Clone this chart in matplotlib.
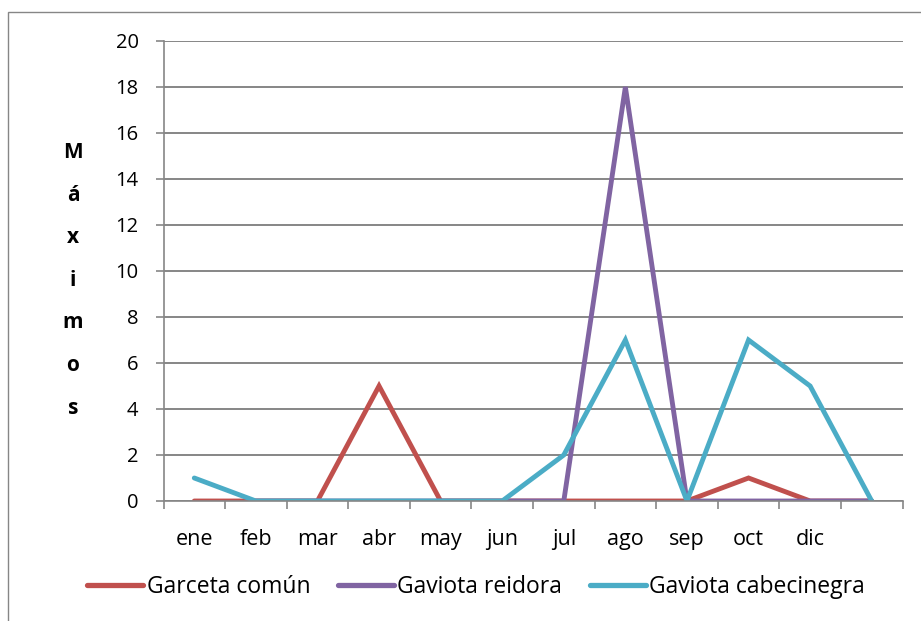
import numpy as np
import matplotlib
matplotlib.use("Agg")
import matplotlib.pyplot as plt
from matplotlib.patches import Rectangle
from matplotlib.ticker import FixedLocator, MultipleLocator

# Monthly maxima per species
months = ["ene", "feb", "mar", "abr", "may", "jun", "jul", "ago", "sep", "oct", "dic", ""]
garceta_comun = [0, 0, 0, 5, 0, 0, 0, 0, 0, 1, 0, 0]
gaviota_reidora = [np.nan, 0, 0, 0, 0, 0, 0, 18, 0, 0, 0, 0]
gaviota_cabecinegra = [1, 0, 0, 0, 0, 0, 2, 7, 0, 7, 5, 0]

series_names = ["Garceta común", "Gaviota reidora", "Gaviota cabecinegra"]
series_colors = ["#C0504D", "#8064A2", "#4BACC6"]

plt.rcParams["font.family"] = ["Open Sans", "DejaVu Sans"]

W, H = 921, 621
fig = plt.figure(figsize=(W / 100, H / 100), dpi=100)

# Chart frame
fig.add_artist(Rectangle((8 / W, -0.1), 1.2, 1 - 12 / H + 0.1,
                         transform=fig.transFigure, fill=False,
                         edgecolor="#868686", linewidth=1.0))

ax = fig.add_axes([163.5 / W, 1 - 501 / H, (902.5 - 163.5) / W, (501 - 41) / H])

x = np.arange(len(months))
for vals, name, col in zip([garceta_comun, gaviota_reidora, gaviota_cabecinegra],
                           series_names, series_colors):
    ax.plot(x, vals, color=col, linewidth=3.5, label=name, solid_capstyle="round",
            solid_joinstyle="miter")

ax.set_xlim(-0.5, len(months) - 0.5)
ax.set_ylim(0, 20)
ax.yaxis.set_major_locator(MultipleLocator(2))
ax.grid(axis="y", color="#868686", linewidth=1.4)
ax.set_axisbelow(True)

# Category labels centred, tick marks between categories
ax.set_xticks(x)
ax.set_xticklabels(months, fontsize=15.5)
ax.xaxis.set_minor_locator(FixedLocator(np.arange(-0.5, len(months), 1.0)))
ax.tick_params(axis="x", which="major", length=0, pad=20)
ax.tick_params(axis="x", which="minor", length=5.5, width=1.2, color="#868686")
ax.tick_params(axis="y", length=6, width=1.2, color="#868686", pad=12, labelsize=14.5)

for side in ["top", "right"]:
    ax.spines[side].set_visible(False)
for side in ["left", "bottom"]:
    ax.spines[side].set_color("#868686")
    ax.spines[side].set_linewidth(1.2)

# Stacked vertical axis title
for i, ch in enumerate("Máximos"):
    fig.text(73 / W, 1 - (153 + i * 42.5) / H, ch, fontsize=15, fontweight="bold",
             ha="center", va="center")

leg = fig.legend(loc="center", bbox_to_anchor=(476 / W, 1 - 587 / H), ncol=3,
                 frameon=False, fontsize=16.5, handlelength=2.45, handletextpad=0.15,
                 columnspacing=1.2)
for line in leg.get_lines():
    line.set_linewidth(3.8)

fig.savefig("out.png", dpi=100)
